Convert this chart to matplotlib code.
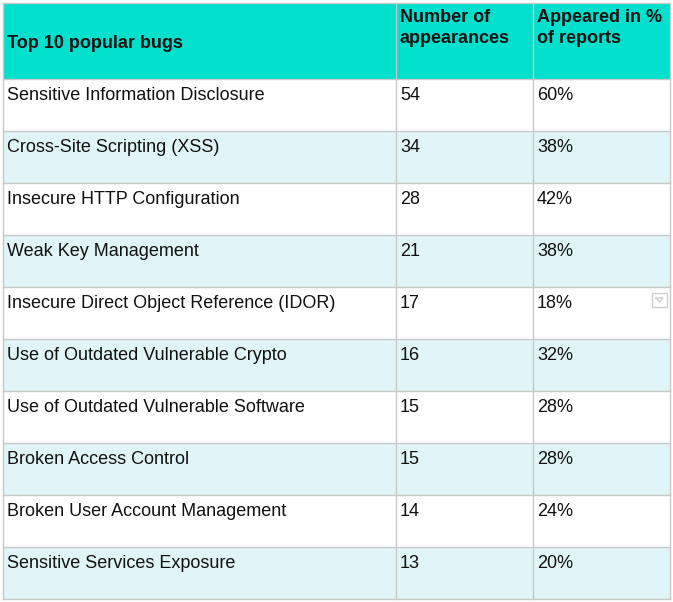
import matplotlib
matplotlib.use("Agg")
import matplotlib.pyplot as plt
from matplotlib.patches import Rectangle

headers = ["Top 10 popular bugs", "Number of\nappearances", "Appeared in %\nof reports"]
bugs = ["Sensitive Information Disclosure", "Cross-Site Scripting (XSS)",
        "Insecure HTTP Configuration", "Weak Key Management",
        "Insecure Direct Object Reference (IDOR)", "Use of Outdated Vulnerable Crypto",
        "Use of Outdated Vulnerable Software", "Broken Access Control",
        "Broken User Account Management", "Sensitive Services Exposure"]
counts = [54, 34, 28, 21, 17, 16, 15, 15, 14, 13]
pcts = ["60%", "38%", "42%", "38%", "18%", "32%", "28%", "28%", "24%", "20%"]

W, H = 673, 602
fig = plt.figure(figsize=(W/100, H/100), dpi=100)
ax = fig.add_axes([0, 0, 1, 1])
ax.set_xlim(0, W); ax.set_ylim(H, 0); ax.axis("off")
plt.rcParams["font.family"] = "Liberation Sans"

xs = [3, 396, 533, 670]
top, hh, rh = 3, 76, 52
grid = "#c8c8c8"
fs = 13

ax.add_patch(Rectangle((xs[0], top), xs[-1]-xs[0], hh, color="#00e0cc", lw=0))
for c in range(3):
    if c == 0:
        ax.text(xs[c]+4, top+hh-35, headers[c], fontsize=fs, fontweight="bold", va="center", color="#111")
    else:
        ax.text(xs[c]+4, top+6, headers[c], fontsize=fs, fontweight="bold", va="top", color="#111", linespacing=1.3)

for i, (b, n, p) in enumerate(zip(bugs, counts, pcts)):
    y0 = top + hh + i*rh
    bg = "#ffffff" if i % 2 == 0 else "#dff5f7"
    ax.add_patch(Rectangle((xs[0], y0), xs[-1]-xs[0], rh, color=bg, lw=0))
    for c, t in enumerate([b, str(n), p]):
        ax.text(xs[c]+4, y0+16, t, fontsize=fs, va="center", color="#111")
    ax.plot([xs[0], xs[-1]], [y0, y0], color=grid, lw=1)
bottom = top + hh + len(bugs)*rh
ax.plot([xs[0], xs[-1]], [bottom, bottom], color=grid, lw=1)
for x in xs:
    ax.plot([x, x], [top, bottom], color=grid, lw=1)
ax.plot([xs[0], xs[-1]], [top, top], color=grid, lw=1)
ax.add_patch(Rectangle((652, 293), 15, 14, fill=False, ec="#d0d0d0", lw=1))
ax.plot([656, 663, 659.5, 656], [298, 298, 302, 298], color="#d0d0d0", lw=1)

fig.savefig("out.png", dpi=100)
